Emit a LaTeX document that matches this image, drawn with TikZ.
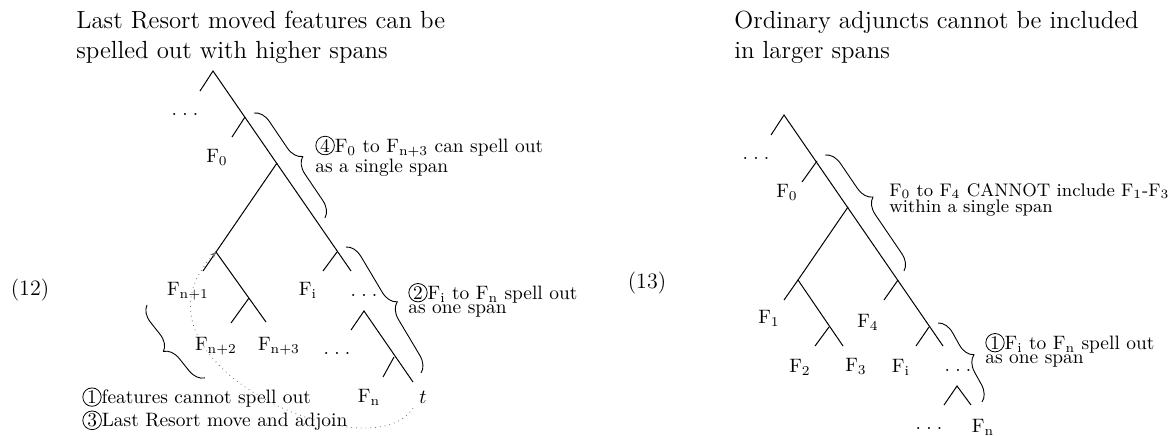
\documentclass[tikz,border=0pt]{standalone}
\usepackage{tikz}
\usetikzlibrary{arrows.meta, decorations.pathreplacing}
\definecolor{movegray}{RGB}{110,110,110}
\newcommand{\circnum}[1]{\tikz[baseline=(cn.base)]\node[draw, circle, inner sep=0.4pt, line width=0.4pt] (cn) {#1};}
\newcommand{\gapdots}{.\hskip2.6pt.\hskip2.6pt.}
\tikzset{
  lab/.style={font=\fontsize{9.7}{11}\selectfont, inner sep=0pt},
  note/.style={font=\fontsize{9.7}{9}\selectfont, align=left, anchor=west, inner sep=0pt},
  ttl/.style={font=\fontsize{12.4}{15}\selectfont, align=left, anchor=west, inner sep=0pt},
  exnum/.style={font=\fontsize{11}{13}\selectfont, inner sep=0pt},
  branch/.style={line width=0.5pt},
  spanbrace/.style={decorate, decoration={brace, amplitude=8pt}, line width=0.45pt}
}

\begin{document}
\begin{tikzpicture}[x=0.5pt, y=-0.5pt, >=Stealth]
    \useasboundingbox (0,0) rectangle (1170,435);
    \node[ttl] (ttlL) at (76,37) {Last Resort moved features can be\\spelled out with higher spans};
    \node[ttl] (ttlR) at (734,37) {Ordinary adjuncts cannot be included\\in larger spans};
    \node[exnum] (ex12) at (30,290) {(12)};
    \node[exnum] (ex13) at (647,283) {(13)};

    \coordinate (A0) at (213,71);
    \coordinate (A0l) at (200,91);
    \coordinate (A1) at (245,117);
    \coordinate (A1l) at (232,137);
    \coordinate (A2) at (277,163);
    \coordinate (A3) at (337,252);
    \coordinate (A3l) at (323,271);
    \coordinate (A3r) at (351,271);
    \coordinate (B0) at (216,252);
    \coordinate (B0l) at (203,271);
    \coordinate (B1) at (249,298);
    \coordinate (B1l) at (231,323);
    \coordinate (B1r) at (266,322);
    \coordinate (C0) at (364,311);
    \coordinate (C0l) at (351,330);
    \coordinate (C1) at (394,357);
    \coordinate (C1l) at (383,377);
    \coordinate (C1r) at (413,382);
    \draw[branch] (A0l) -- (A0) -- (A3r);
    \draw[branch] (A1) -- (A1l);
    \draw[branch] (A2) -- (B0);
    \draw[branch] (A3) -- (A3l);
    \draw[branch] (B0l) -- (B0) -- (B1r);
    \draw[branch] (B1) -- (B1l);
    \draw[branch] (C0l) -- (C0) -- (C1r);
    \draw[branch] (C1) -- (C1l);

    \node[lab] (dotsA) at (185,114) {\gapdots};
    \node[lab] (FzeroL) at (217,158) {F\textsubscript{0}};
    \node[lab] (Fnone) at (188,291) {F\textsubscript{n+1}};
    \node[lab] (FiL) at (308,290) {F\textsubscript{i}};
    \node[lab] (dotsB) at (364,295) {\gapdots};
    \node[lab] (Fntwo) at (216,346) {F\textsubscript{n+2}};
    \node[lab] (Fnthree) at (279,346) {F\textsubscript{n+3}};
    \node[lab] (dotsC) at (337,353) {\gapdots};
    \node[lab] (FnL) at (369,397) {F\textsubscript{n}};
    \node[lab] (trace) at (423,397) {$t$};

    \coordinate (br4a) at (254,113);
    \coordinate (br4b) at (325,218);
    \coordinate (br2a) at (346,247);
    \coordinate (br2b) at (421,373);
    \coordinate (br1a) at (147,305);
    \coordinate (br1b) at (205,378);
    \draw[spanbrace] (br4a) -- (br4b);
    \draw[spanbrace] (br2a) -- (br2b);
    \draw[spanbrace, decoration={mirror}] (br1a) -- (br1b);
    \node[note] (note4) at (315,156) {\circnum{4}F\textsubscript{0} to F\textsubscript{n+3} can spell out\\as a single span};
    \node[note, font=\fontsize{9.7}{7}\selectfont] (note2) at (408,300) {\circnum{2}F\textsubscript{i} to F\textsubscript{n} spell out\\as one span};
    \node[note, font=\fontsize{9.7}{11.5}\selectfont] (note13) at (82,409) {\circnum{1}features cannot spell out\\\circnum{3}Last Resort move and adjoin};

    \coordinate (mv) at (413,408);
    \draw[dotted, movegray, -{Stealth[length=3pt, width=2.5pt]}] (mv) .. controls (371,475) and (113,361) .. (B0);

    \coordinate (R0) at (784,115);
    \coordinate (R0l) at (771,135);
    \coordinate (R1) at (817,161);
    \coordinate (R1l) at (802,182);
    \coordinate (R2) at (848,207);
    \coordinate (R3) at (898,280);
    \coordinate (R3l) at (884,300);
    \coordinate (R4) at (929,327);
    \coordinate (R4l) at (916,346);
    \coordinate (R4r) at (943,346);
    \coordinate (S0) at (798,280);
    \coordinate (S0l) at (784,300);
    \coordinate (S1) at (829,327);
    \coordinate (S1l) at (815,346);
    \coordinate (S1r) at (843,346);
    \coordinate (T0) at (957,386);
    \coordinate (T0l) at (944,405);
    \coordinate (T0r) at (971,405);
    \draw[branch] (R0l) -- (R0) -- (R4r);
    \draw[branch] (R1) -- (R1l);
    \draw[branch] (R2) -- (S0);
    \draw[branch] (R3) -- (R3l);
    \draw[branch] (R4) -- (R4l);
    \draw[branch] (S0l) -- (S0) -- (S1r);
    \draw[branch] (S1) -- (S1l);
    \draw[branch] (T0l) -- (T0) -- (T0r);

    \node[lab] (dotsR) at (756,158) {\gapdots};
    \node[lab] (FzeroR) at (787,193) {F\textsubscript{0}};
    \node[lab] (Fone) at (769,318) {F\textsubscript{1}};
    \node[lab] (Ffour) at (868,322) {F\textsubscript{4}};
    \node[lab] (Ftwo) at (800,367) {F\textsubscript{2}};
    \node[lab] (Fthree) at (856,367) {F\textsubscript{3}};
    \node[lab] (FiR) at (901,367) {F\textsubscript{i}};
    \node[lab] (dotsS) at (958,370) {\gapdots};
    \node[lab] (dotsT) at (929,428) {\gapdots};
    \node[lab] (FnR) at (983,427) {F\textsubscript{n}};

    \coordinate (brTa) at (825,155);
    \coordinate (brTb) at (904,271);
    \coordinate (brUa) at (938,323);
    \coordinate (brUb) at (982,402);
    \draw[spanbrace, decoration={aspect=0.44}] (brTa) -- (brTb);
    \draw[spanbrace] (brUa) -- (brUb);
    \node[note, font=\fontsize{9.1}{8.3}\selectfont] (noteT) at (889,200) {F\textsubscript{0} to F\textsubscript{4} CANNOT include F\textsubscript{1}-F\textsubscript{3}\\within a single span};
    \node[note, font=\fontsize{9.7}{7}\selectfont] (noteU) at (985,350) {\circnum{1}F\textsubscript{i} to F\textsubscript{n} spell out\\as one span};
\end{tikzpicture}
\end{document}
